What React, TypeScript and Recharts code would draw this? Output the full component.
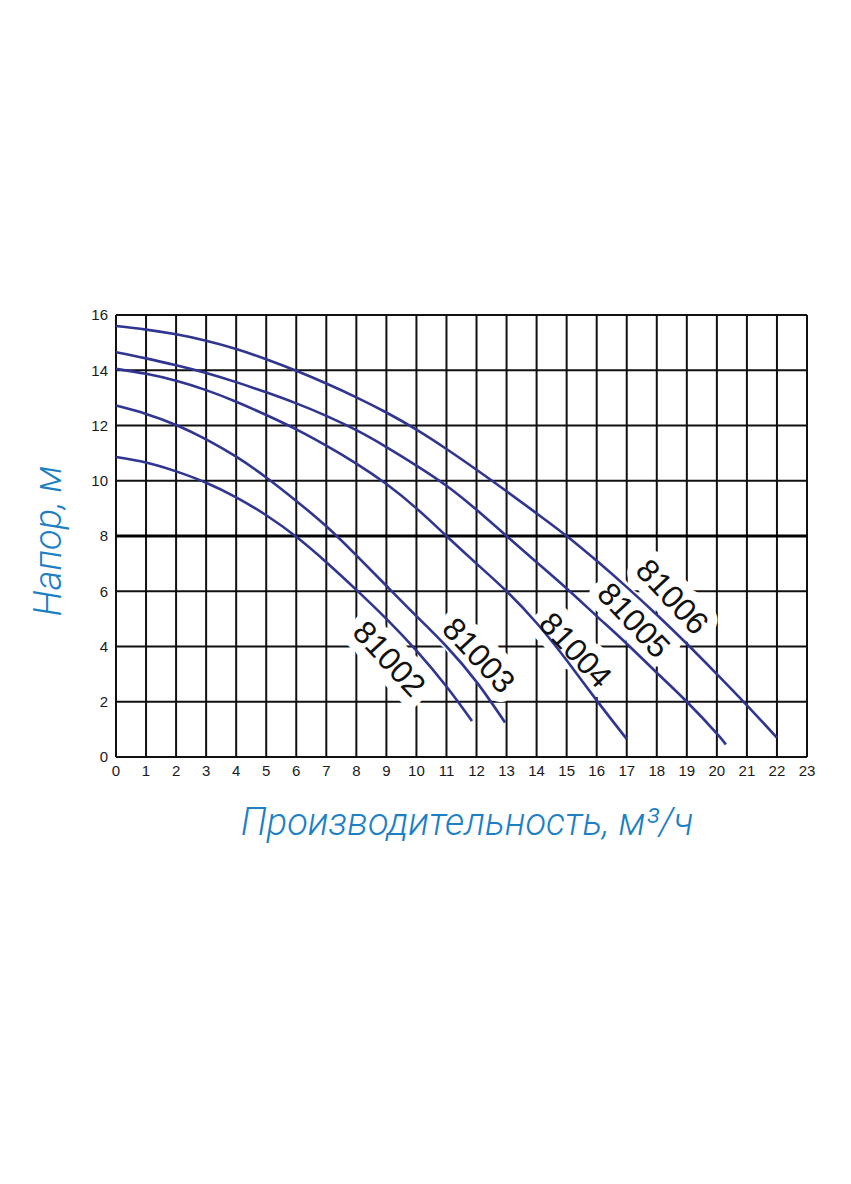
import { LineChart, Line, XAxis, YAxis, CartesianGrid, ReferenceLine, ReferenceDot } from 'recharts'

// axis ticks
const flowTicks = [0, 1, 2, 3, 4, 5, 6, 7, 8, 9, 10, 11, 12, 13, 14, 15, 16, 17, 18, 19, 20, 21, 22, 23]
const headTicks = [0, 2, 4, 6, 8, 10, 12, 14, 16]

// pump curves: flow (m3/h) and head (m)
const q81002 = [0, 1, 2, 3, 4, 5, 6, 7, 8, 9, 10, 11, 11.85]
const h81002 = [10.86, 10.66, 10.34, 9.93, 9.4, 8.75, 7.97, 7.05, 6.05, 5.0, 3.85, 2.55, 1.3]

const q81003 = [0, 1, 2, 3, 4, 5, 6, 7, 8, 9, 10, 11, 12, 12.95]
const h81003 = [12.72, 12.42, 12.02, 11.5, 10.87, 10.12, 9.27, 8.35, 7.3, 6.2, 5.1, 4.0, 2.72, 1.25]

const q81004 = [0, 1, 2, 3, 4, 5, 6, 7, 8, 9, 10, 11, 12, 13, 14, 15, 16, 17]
const h81004 = [14.05, 13.87, 13.62, 13.28, 12.86, 12.38, 11.86, 11.27, 10.62, 9.88, 9.0, 8.0, 7.0, 6.0, 4.85, 3.5, 2.05, 0.65]

const q81005 = [0, 1, 2, 3, 4, 5, 6, 7, 8, 9, 10, 11, 12, 13, 14, 15, 16, 17, 18, 19, 20, 20.3]
const h81005 = [14.65, 14.43, 14.18, 13.9, 13.57, 13.2, 12.8, 12.35, 11.83, 11.22, 10.55, 9.82, 8.95, 8.0, 7.05, 6.1, 5.1, 4.1, 3.05, 2.0, 0.85, 0.45]

const q81006 = [0, 1, 2, 3, 4, 5, 6, 7, 8, 9, 10, 11, 12, 13, 14, 15, 16, 17, 18, 19, 20, 21, 22]
const h81006 = [15.6, 15.47, 15.3, 15.07, 14.77, 14.4, 13.98, 13.52, 13.02, 12.47, 11.85, 11.15, 10.4, 9.62, 8.82, 8.0, 7.1, 6.15, 5.15, 4.1, 3.0, 1.87, 0.7]

// curve labels
const models = ['81002', '81003', '81004', '81005', '81006']
const labelQ = [9.1, 12.08, 15.3, 17.24, 18.52]
const labelH = [3.56, 3.68, 3.87, 4.95, 5.8]

const toPoints = (q: number[], h: number[]) => q.map((v, i) => ({ q: v, h: h[i] }))

const curves = [
  toPoints(q81002, h81002),
  toPoints(q81003, h81003),
  toPoints(q81004, h81004),
  toPoints(q81005, h81005),
  toPoints(q81006, h81006),
]

const curveColor = '#2f3590'
const titleColor = '#1d7fc4'
const titleFont = "Roboto, 'Liberation Sans', Arial, sans-serif"

function ModelTag({ cx, cy, text, halo }: { cx?: number; cy?: number; text: string; halo?: boolean }) {
  if (cx == null || cy == null) return <g />
  return (
    <text
      x={cx}
      y={cy}
      transform={`rotate(47 ${cx} ${cy})`}
      textAnchor="middle"
      dominantBaseline="central"
      fontSize={32}
      fontFamily="'Liberation Sans', Arial, sans-serif"
      fill={halo ? '#fff' : '#111'}
      stroke={halo ? '#fff' : 'none'}
      strokeWidth={halo ? 20 : 0}
      strokeLinejoin="round"
    >
      {text}
    </text>
  )
}

export default function App() {
  return (
    <div style={{ position: 'relative', width: 835, height: 1160, background: '#fff' }}>
      <LineChart
        width={835}
        height={880}
        margin={{ top: 307, right: 36, bottom: 101, left: 68 }}
        style={{ fontFamily: "'Liberation Sans', Arial, sans-serif" }}
      >
        <CartesianGrid stroke="#111" strokeWidth={2} strokeOpacity={1} />
        <XAxis
          type="number"
          dataKey="q"
          domain={[0, 23]}
          ticks={flowTicks}
          interval={0}
          axisLine={false}
          tickLine={false}
          tick={{ fontSize: 15, fill: '#1a1a1a' }}
          height={30}
          allowDuplicatedCategory={false}
        />
        <YAxis
          type="number"
          dataKey="h"
          domain={[0, 16]}
          ticks={headTicks}
          interval={0}
          axisLine={false}
          tickLine={false}
          tick={{ fontSize: 15, fill: '#1a1a1a' }}
          width={40}
        />
        <ReferenceLine y={8} stroke="#000" strokeWidth={3} />
        {models.map((m, i) => (
          <ReferenceDot
            key={'halo' + m}
            x={labelQ[i]}
            y={labelH[i]}
            r={0}
            zIndex={-50}
            shape={(p: any) => <ModelTag cx={p.cx} cy={p.cy} text={m} halo />}
          />
        ))}
        {curves.map((pts, i) => (
          <Line
            key={models[i]}
            data={pts}
            dataKey="h"
            type="natural"
            stroke={curveColor}
            strokeWidth={2.6}
            dot={false}
            activeDot={false}
            isAnimationActive={false}
          />
        ))}
        {models.map((m, i) => (
          <ReferenceDot
            key={'tag' + m}
            x={labelQ[i]}
            y={labelH[i]}
            r={0}
            zIndex={2500}
            shape={(p: any) => <ModelTag cx={p.cx} cy={p.cy} text={m} />}
          />
        ))}
      </LineChart>
      <div
        style={{
          position: 'absolute',
          left: 40 - 200,
          top: 533 - 20,
          width: 400,
          height: 40,
          lineHeight: '40px',
          textAlign: 'center',
          transform: 'rotate(-90deg)',
          fontFamily: titleFont,
          fontStyle: 'italic',
          fontWeight: 300,
          fontSize: 38,
          color: titleColor,
          whiteSpace: 'nowrap',
        }}
      >
        Напор, м
      </div>
      <div
        style={{
          position: 'absolute',
          left: 459 - 300,
          top: 794,
          width: 600,
          height: 40,
          lineHeight: '40px',
          textAlign: 'center',
          fontFamily: titleFont,
          fontStyle: 'italic',
          fontWeight: 300,
          fontSize: 38,
          color: titleColor,
          whiteSpace: 'nowrap',
        }}
      >
        Производительность, м³/ч
      </div>
    </div>
  )
}
